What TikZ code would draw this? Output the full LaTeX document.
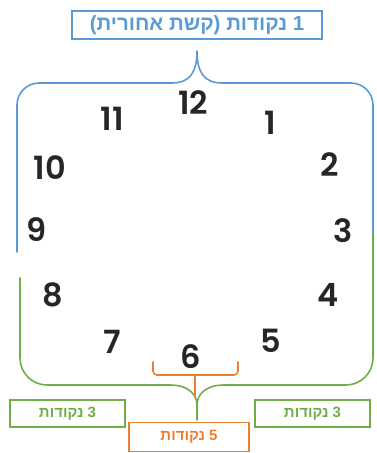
\documentclass[tikz,border=0pt]{standalone}
\usepackage{fontspec}
\setmainfont{Liberation Sans}
\newfontfamily\hebfont[Script=Hebrew]{Liberation Sans}
\newfontfamily\digfont{Poppins}[UprightFont=* SemiBold]
\TeXXeTstate=1
\definecolor{cblue}{RGB}{91,155,213}
\definecolor{cgreen}{RGB}{112,173,71}
\definecolor{corange}{RGB}{237,125,49}
\tikzset{
  num/.style={inner sep=0pt, font=\digfont\fontsize{32}{32}\selectfont, text=black!85},
  lbl/.style={draw, line width=1.3pt, inner sep=0pt},
  brc/.style={line width=1.6pt, line join=round, line cap=round}
}
\begin{document}
\begin{tikzpicture}[x=1pt,y=-1pt]
\useasboundingbox (0,0) rectangle (376,453);
% labels
\node[lbl, draw=cblue, text=cblue, minimum width=250pt, minimum height=28pt, font=\hebfont\bfseries\fontsize{20.5}{20.5}\selectfont] (top) at (197,25) {\beginR 1 נקודות (קשת אחורית)\endR};
\node[lbl, draw=cgreen, text=cgreen, minimum width=115pt, minimum height=27pt, font=\hebfont\bfseries\fontsize{15}{15}\selectfont] (gl) at (67.5,413.5) {\beginR 3 נקודות\endR};
\node[lbl, draw=cgreen, text=cgreen, minimum width=115pt, minimum height=27pt, font=\hebfont\bfseries\fontsize{15}{15}\selectfont] (gr) at (312.5,413.5) {\beginR 3 נקודות\endR};
\node[lbl, draw=corange, text=corange, minimum width=120pt, minimum height=29pt, font=\hebfont\bfseries\fontsize{15}{15}\selectfont] (ob) at (189,437) {\beginR 5 נקודות\endR};
% numbers
\node[num] (n12) at (193,103) {12};
\node[num] (n11) at (112,119) {11};
\node[num] (n1) at (270,123) {1};
\node[num] (n10) at (50,168) {10};
\node[num] (n2) at (330,165) {2};
\node[num] (n9) at (37,230) {9};
\node[num] (n3) at (343,231) {3};
\node[num] (n8) at (53,295) {8};
\node[num] (n4) at (328,295) {4};
\node[num] (n7) at (112,342) {7};
\node[num] (n5) at (271,341) {5};
\node[num] (n6) at (191,357) {6};
% blue brace
\coordinate (btip) at (197,51);
\draw[brc, cblue] (17,252) -- (17,105) arc[start angle=180, end angle=270, radius=22] -- (172,83)
  .. controls (190,83) and (197,72) .. (btip)
  .. controls (197,72) and (204,83) .. (222,83) -- (351,83)
  arc[start angle=-90, end angle=0, radius=22] -- (373,235);
% green brace
\coordinate (gtip) at (197,420);
\draw[brc, cgreen] (373,235) -- (373,358) arc[start angle=0, end angle=90, radius=27] -- (224,385)
  .. controls (205,385) and (197,395) .. (197,405) -- (gtip);
\draw[brc, cgreen] (20,278) -- (20,358) arc[start angle=180, end angle=90, radius=27] -- (170,385)
  .. controls (189,385) and (197,395) .. (197,405);
% orange brace
\coordinate (oL) at (153,362);
\coordinate (oR) at (238,362);
\coordinate (oS) at (195,396);
\draw[brc, corange] (oL) -- (153,371) arc[start angle=180, end angle=90, radius=4] -- (234,375) arc[start angle=90, end angle=0, radius=4] -- (oR);
\draw[brc, corange] (195,375) -- (oS);
\end{tikzpicture}
\end{document}
